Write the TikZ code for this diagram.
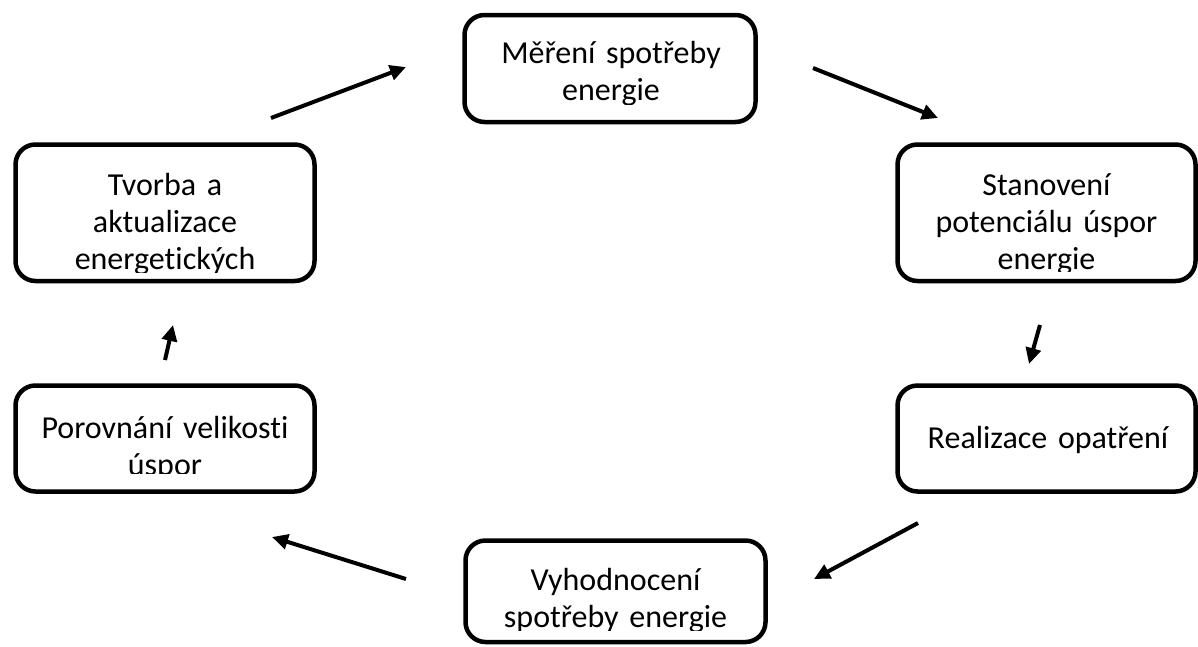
\documentclass[tikz,border=0pt]{standalone}
\usepackage{fontspec}
\setmainfont[Ligatures=NoCommon]{Carlito}
\usetikzlibrary{arrows.meta}
\tikzset{
  box/.style={draw=black, line width=4.5pt, rounded corners=20pt, fill=white, inner sep=0pt},
  lbl/.style={font=\fontsize{32}{37}\selectfont, align=center, text width=300pt, inner sep=0pt, anchor=base},
  arr/.style={line width=4pt, -{Triangle[length=16pt,width=15pt]}}
}
\begin{document}
\begin{tikzpicture}[x=1pt,y=-1pt]
\useasboundingbox (0,0) rectangle (1198,646);
% boxes
\node[box, minimum width=291pt, minimum height=107pt] (mer) at (610,68.5) {};
\node[box, minimum width=299pt, minimum height=136.5pt] (tvo) at (165,212.75) {};
\node[box, minimum width=298pt, minimum height=136.5pt] (sta) at (1046.5,212.75) {};
\node[box, minimum width=299pt, minimum height=106pt] (por) at (165,438.5) {};
\node[box, minimum width=298pt, minimum height=106pt] (rea) at (1046.5,438.5) {};
\node[box, minimum width=300pt, minimum height=101.5pt] (vyh) at (615.5,591.25) {};
% texts (clipped as in the reference)
\begin{scope}
  \clip (467,18) rectangle (753,104);
  \node[lbl] (merT) at (611,63) {Měření spotřeby\\energie};
\end{scope}
\begin{scope}
  \clip (18,147) rectangle (312,272);
  \node[lbl] (tvoT) at (165,195) {Tvorba a\\aktualizace\\energetických\\plánů};
\end{scope}
\begin{scope}
  \clip (900,147) rectangle (1193,271);
  \node[lbl] (staT) at (1046.5,195) {Stanovení\\potenciálu úspor\\energie};
\end{scope}
\begin{scope}
  \clip (18,388) rectangle (312,473);
  \node[lbl] (porT) at (165,438) {Porovnání velikosti\\úspor};
\end{scope}
\node[lbl] (reaT) at (1048,448) {Realizace opatření};
\begin{scope}
  \clip (468,543) rectangle (763,630);
  \node[lbl] (vyhT) at (615.5,590) {Vyhodnocení\\spotřeby energie};
\end{scope}
% arrow end points
\coordinate (a1s) at (271,118); \coordinate (a1e) at (406,67);
\coordinate (a2s) at (813,68);  \coordinate (a2e) at (938,118);
\coordinate (a3s) at (1040,325); \coordinate (a3e) at (1029,364);
\coordinate (a4s) at (918,523); \coordinate (a4e) at (814,579);
\coordinate (a5s) at (406,579); \coordinate (a5e) at (272,537);
\coordinate (a6s) at (165,360); \coordinate (a6e) at (173,325);
\draw[arr] (a1s) -- (a1e);
\draw[arr] (a2s) -- (a2e);
\draw[arr] (a3s) -- (a3e);
\draw[arr] (a4s) -- (a4e);
\draw[arr] (a5s) -- (a5e);
\draw[arr] (a6s) -- (a6e);
\end{tikzpicture}
\end{document}
